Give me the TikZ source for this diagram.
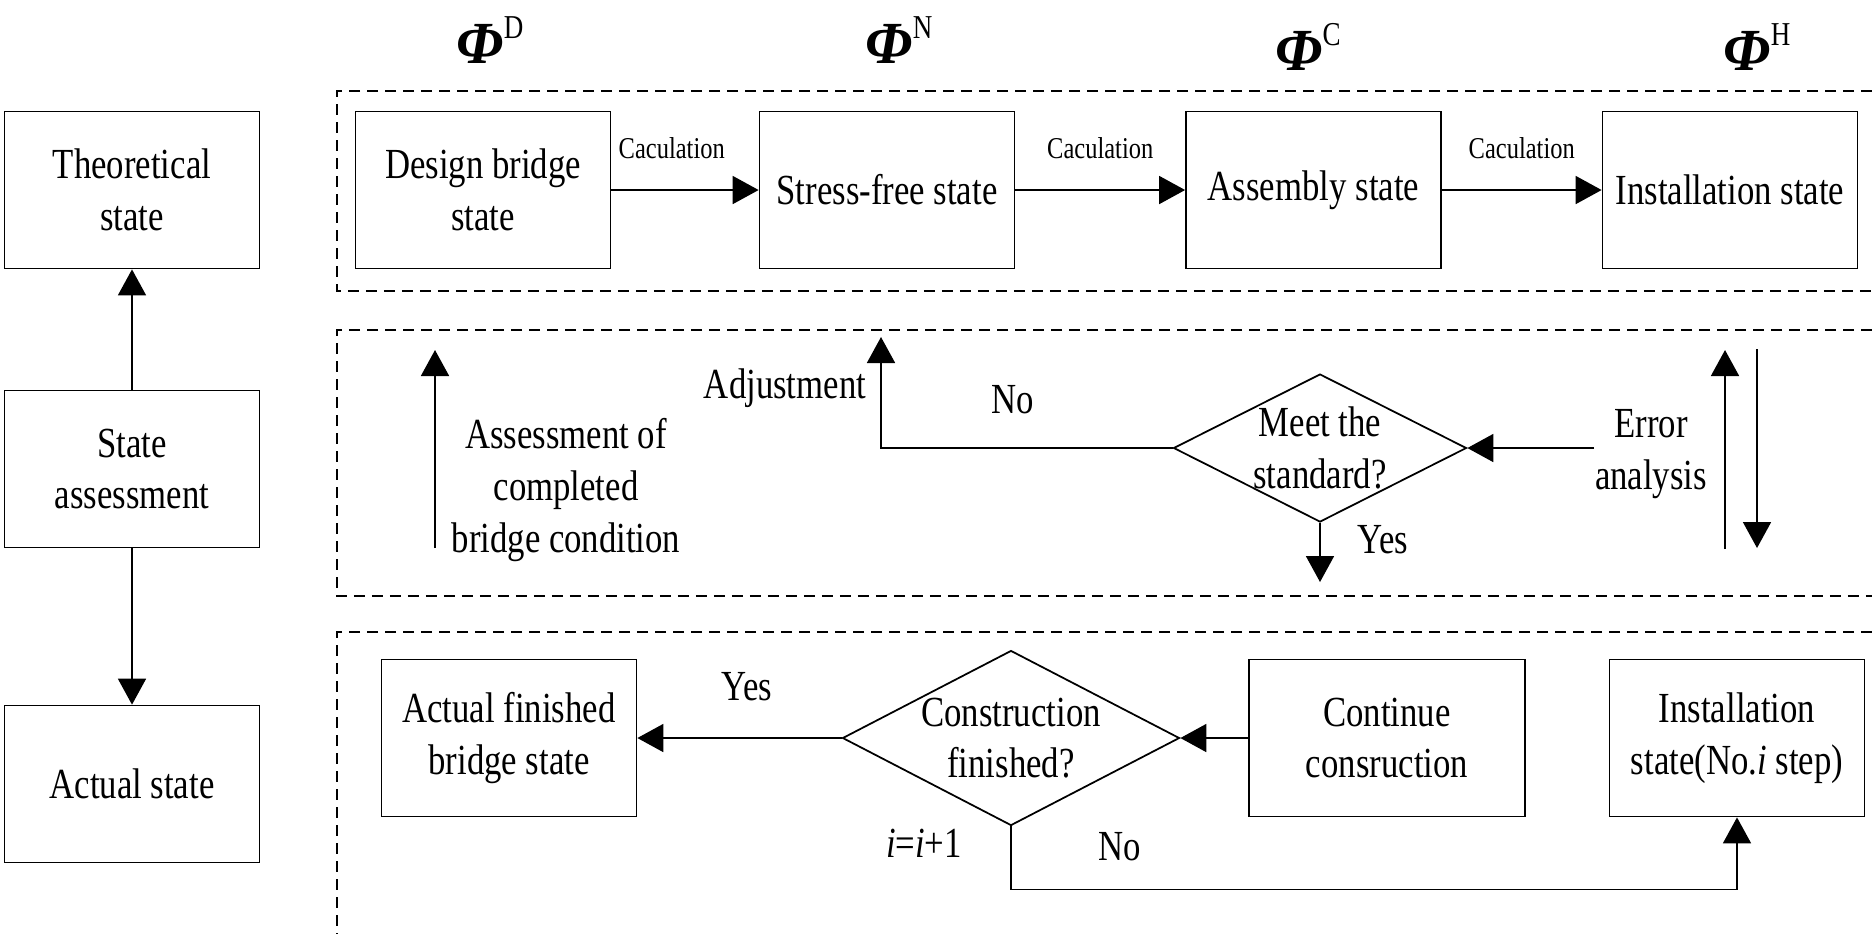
\documentclass[tikz,border=0pt]{standalone}
\usepackage{fontspec}
\setmainfont{Liberation Serif}[FakeStretch=0.81]
\newfontfamily\phifont{Liberation Serif}
\usetikzlibrary{arrows.meta,positioning,shapes.geometric}

\newcommand{\phistate}[1]{{\phifont\fontsize{17}{20}\selectfont\textbf{\textit{Φ}}}\raisebox{7pt}{\fontsize{9.5}{11}\selectfont #1}}

\begin{document}
\begin{tikzpicture}[x=0.1mm,y=-0.1mm,on grid,line width=0.5pt,
    font=\fontsize{12.2}{14.7}\selectfont,
    arr/.style={-{Triangle[length=2.6mm,width=2.8mm]}},
    statebox/.style={draw,align=center,inner sep=0pt,minimum width=25.5mm,minimum height=15.7mm},
    decision/.style={draw,diamond,inner sep=0pt},
    zone/.style={line width=0.45pt,dash pattern=on 1.1mm off 0.7mm},
    calclabel/.style={font=\fontsize{8.6}{10}\selectfont,inner sep=0pt,above=3mm},
    txt/.style={align=center,inner sep=0pt}]
\useasboundingbox (0,0) rectangle (1872,933);

% dashed frames
\draw[zone] (1872,91) -| (337,291) -- (1872,291);
\draw[zone] (1872,330) -| (337,596) -- (1872,596);
\draw[zone] (1872,632) -| (337,933);

% left column
\node[statebox] (theory) at (132,190) {Theoretical\\state};
\node[statebox] (assess) [below=27.9mm of theory] {State\\assessment};
\node[statebox] (actual) [below=31.5mm of assess] {Actual state};

% theoretical states
\node[statebox] (design) at (483,190) {Design bridge\\state};
\node[statebox] (stressfree) [right=40.4mm of design] {Stress-free state};
\node[statebox] (assembly) [right=42.65mm of stressfree] {Assembly state};
\node[statebox] (install) [right=41.65mm of assembly] {Installation state};
\node (phiD) at (490,40) {\phistate{D}};
\node (phiN) at (899,40) {\phistate{N}};
\node (phiC) at (1308,47) {\phistate{C}};
\node (phiH) at (1757,47) {\phistate{H}};

% assessment
\node[decision,minimum width=29.3mm,minimum height=14.8mm,
      label={[txt]center:Meet the\\standard?}] (meet) at (1320,448) {};
\node[txt] (erroran) at (1651,454) {Error\\analysis};
\node[txt] (adjust) at (785,388) {Adjustment};
\node[txt] (completed) at (566,490) {Assessment of\\completed\\bridge condition};
\node[txt] (no1) at (1013,400) {No};
\node[txt] (yes1) at (1383,540) {Yes};
\coordinate (adjtop) at (881,337);
\coordinate (yesend) at (1320,582);
\coordinate (up1a) at (435,548);
\coordinate (up1b) at (435,350);
\coordinate (up2a) at (1725,549);
\coordinate (up2b) at (1725,350);
\coordinate (dn2a) at (1757,349);
\coordinate (dn2b) at (1757,548);

% construction
\node[statebox] (finished) at (509,738) {Actual finished\\bridge state};
\node[decision,minimum width=33.7mm,minimum height=17.5mm,
      label={[txt]center:Construction\\finished?}] (constr) [right=50.2mm of finished] {};
\node[statebox,minimum width=27.6mm] (continue) [right=37.6mm of constr] {Continue\\consruction};
\node[statebox] (installi) [right=35mm of continue] {Installation\\state(No.\textit{i} step)};
\node[txt] (yes2) at (747,687) {Yes};
\node[txt] (no2) at (1120,847) {No};
\node[txt] (incr) at (924,843) {\textit{i}=\textit{i}+1};

\path[arr]
  (assess) edge (theory)
           edge (actual)
  (design) edge node[calclabel,pos=0.41] {Caculation} (stressfree)
  (stressfree) edge node[calclabel] {Caculation} (assembly)
  (assembly) edge node[calclabel] {Caculation} (install)
  (up1a) edge (up1b)
  (erroran.west |- meet.east) edge (meet.east)
  (up2a) edge (up2b)
  (dn2a) edge (dn2b)
  (meet) edge (yesend)
  (continue) edge (constr)
  (constr) edge (finished);
\draw[arr] (meet.west) -| (adjtop);
\draw[arr] (constr.south) -- ++(0,63) -| (installi.south);
\end{tikzpicture}
\end{document}
